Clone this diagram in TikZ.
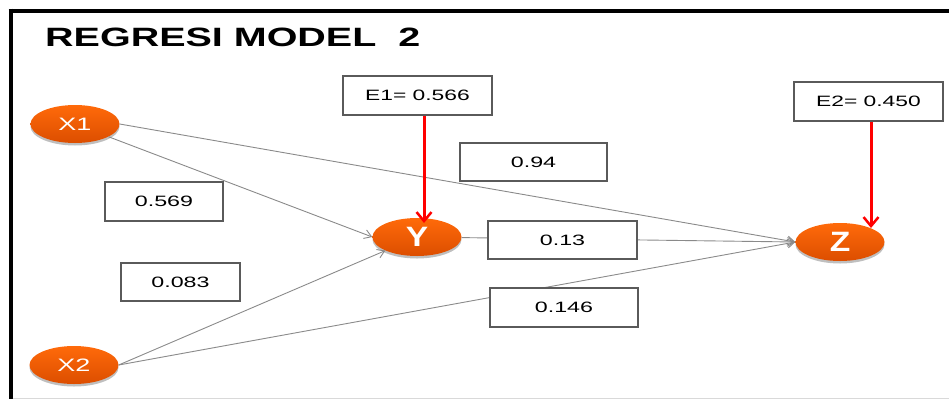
\documentclass[tikz,border=0pt]{standalone}
\usepackage{fontspec}
\setmainfont{Liberation Sans}
\usetikzlibrary{shapes.geometric,arrows.meta,shadows}
\definecolor{orangeA}{HTML}{FF6A0A}
\definecolor{orangeB}{HTML}{DC4E00}
\definecolor{boxgray}{HTML}{5A5A5A}
\definecolor{linegray}{HTML}{8A8A8A}
\newcommand{\wide}[2]{\scalebox{#1}[1]{#2}}
\begin{document}
\begin{tikzpicture}[x=1pt,y=-1pt,
  var/.style={ellipse,minimum width=89pt,minimum height=38pt,inner sep=0pt,
    top color=orangeA,bottom color=orangeB,draw=none,text=white,
    drop shadow={shadow xshift=0pt,shadow yshift=-2.5pt,opacity=0.25,fill=black}},
  smallvar/.style={var,font=\fontsize{18}{18}\selectfont},
  bigvar/.style={var,font=\fontsize{28}{28}\selectfont\bfseries},
  valbox/.style={draw=boxgray,line width=1.8pt,fill=white,inner sep=0pt,
    font=\fontsize{15}{15}\selectfont},
  path/.style={draw=linegray,line width=0.9pt,-{Straight Barb[length=7pt,width=9pt,line width=0.9pt]}},
  errarrow/.style={draw=red,line width=3pt,-{Straight Barb[length=9pt,width=15pt,line width=2.5pt]}}
]
\useasboundingbox (0,0) rectangle (949,399);
% frame
\draw[black,line width=4pt] (8.5,10.5) -- (949,10.5);
\draw[black,line width=4pt] (10.5,8.5) -- (10.5,399);
\draw[black!15,line width=1pt] (12.5,398) -- (949,398);

% title
\node[anchor=base west,inner sep=0pt,font=\fontsize{26.5}{26.5}\selectfont\bfseries] (title) at (45,46) {\wide{1.49}{REGRESI MODEL\ \ 2}};

% variables
\node[smallvar] (X1) at (75,124) {\wide{1.5}{X1}};
\node[smallvar] (X2) at (74,365) {\wide{1.5}{X2}};
\node[bigvar] (Y) at (417,237) {\wide{1.2}{Y}};
\node[bigvar] (Z) at (840,242) {\wide{1.2}{Z}};

% paths
\draw[path] (X1) -- (Y.west);
\draw[path] (X2.east) -- (Y);
\draw[path] (X1.east) -- (Z.west);
\draw[path] (X2.east) -- (Z.west);
\draw[path] (Y) -- (Z.west);

% value boxes
\node[valbox,minimum width=149pt,minimum height=39pt] (E1) at (417.5,95.5) {\wide{1.52}{E1= 0.566}};
\node[valbox,minimum width=149pt,minimum height=39pt] (E2) at (868.5,101.5) {\wide{1.52}{E2= 0.450}};
\node[valbox,minimum width=147pt,minimum height=38pt] (b94) at (533.5,162) {\wide{1.55}{0.94}};
\node[valbox,minimum width=118pt,minimum height=39pt] (b569) at (164,201.5) {\wide{1.55}{0.569}};
\node[valbox,minimum width=119pt,minimum height=38pt] (b083) at (180.5,282) {\wide{1.55}{0.083}};
\node[valbox,minimum width=149pt,minimum height=38pt] (b13) at (562.5,240) {\wide{1.55}{0.13}};
\node[valbox,minimum width=148pt,minimum height=39pt] (b146) at (564,307.5) {\wide{1.55}{0.146}};

% error arrows
\coordinate (e1end) at (424,223);
\coordinate (e2end) at (871,228);
\draw[errarrow] (E1.south -| e1end) -- (e1end);
\draw[errarrow] (E2.south -| e2end) -- (e2end);
\end{tikzpicture}
\end{document}
